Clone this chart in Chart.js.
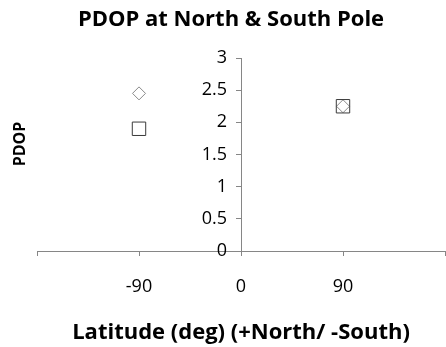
<!DOCTYPE html>
<html lang="en">
<head>
    <meta charset="UTF-8">
    <title>PDOP at North & South Pole</title>
    <script src="https://cdn.jsdelivr.net/npm/chart.js"></script>
    <style>
        body { margin: 0; background: #fff; }
        .wrap { width: 446px; height: 347px; position: relative; }
    </style>
</head>
<body>
    <div class="wrap"><canvas id="pdopChart" width="446" height="347"></canvas></div>

    <script>
        // values
        const latitudes = [-90, 90];
        const pdopDiamond = [2.45, 2.25];
        const pdopSquare = [1.9, 2.25];
        const xTickLabels = [-90, 0, 90];
        const chartTitle = 'PDOP at North & South Pole';
        const xTitle = 'Latitude (deg) (+North/ -South)';
        const yTitle = 'PDOP';

        const FONT = "'Open Sans', sans-serif";
        const AXIS = '#868686';

        // titles drawn by hand so they sit where the reference has them
        const titlesPlugin = {
            id: 'titles',
            afterDraw(chart) {
                const ctx = chart.ctx;
                ctx.save();
                ctx.fillStyle = '#000';
                ctx.textAlign = 'center';
                ctx.textBaseline = 'alphabetic';
                ctx.font = 'bold 22px ' + FONT;
                ctx.fillText(chartTitle, 231, 26);
                ctx.fillText(xTitle, 241, 339);
                ctx.font = 'bold 16px ' + FONT;
                ctx.translate(25, 144);
                ctx.rotate(-Math.PI / 2);
                ctx.fillText(yTitle, 0, 0);
                ctx.restore();
            }
        };

        const points = arr => latitudes.map((x, i) => ({ x: x, y: arr[i] }));

        new Chart(document.getElementById('pdopChart'), {
            type: 'scatter',
            data: {
                datasets: [{
                    label: 'Square',
                    data: points(pdopSquare),
                    pointStyle: 'rect',
                    pointRadius: 9.5,
                    borderColor: '#3a3a3a',
                    backgroundColor: 'rgba(0,0,0,0)',
                    borderWidth: 1
                }, {
                    label: 'Diamond',
                    data: points(pdopDiamond),
                    pointStyle: 'rectRot',
                    pointRadius: 6.5,
                    borderColor: '#8a8a8a',
                    backgroundColor: 'rgba(0,0,0,0)',
                    borderWidth: 1
                }]
            },
            options: {
                responsive: false,
                animation: false,
                // autoPadding would reserve room for the point radius on the right
                layout: { autoPadding: false, padding: { left: 37, top: 58, right: 1, bottom: 0 } },
                plugins: {
                    legend: { display: false },
                    tooltip: { enabled: false }
                },
                scales: {
                    x: {
                        type: 'linear',
                        min: -180,
                        max: 180,
                        afterFit: s => {
                            s.height = 96;
                            s.paddingLeft = 0;
                            s.paddingRight = 0;
                        },
                        afterBuildTicks: s => {
                            s.ticks = [-180, -90, 0, 90, 180].map(v => ({ value: v }));
                        },
                        border: { color: AXIS, width: 1 },
                        grid: { display: true, drawOnChartArea: false, drawTicks: true, tickLength: 5, color: AXIS },
                        ticks: {
                            padding: 20,
                            color: '#000',
                            font: { family: FONT, size: 18 },
                            maxRotation: 0,
                            callback: v => xTickLabels.includes(v) ? String(v) : ''
                        }
                    },
                    y: {
                        type: 'linear',
                        position: { x: 0 },
                        min: 0,
                        max: 3,
                        // centred axis: keep it from taking room at the right
                        afterFit: s => { s.width = 0; },
                        border: { color: AXIS, width: 1 },
                        grid: { display: true, drawOnChartArea: false, drawTicks: true, tickLength: 5, color: AXIS },
                        ticks: {
                            stepSize: 0.5,
                            color: '#000',
                            font: { family: FONT, size: 18 },
                            // padding is ignored for a centred axis, so pad with spaces
                            callback: v => String(v) + '   '
                        }
                    }
                }
            },
            plugins: [titlesPlugin]
        });
    </script>
</body>
</html>
